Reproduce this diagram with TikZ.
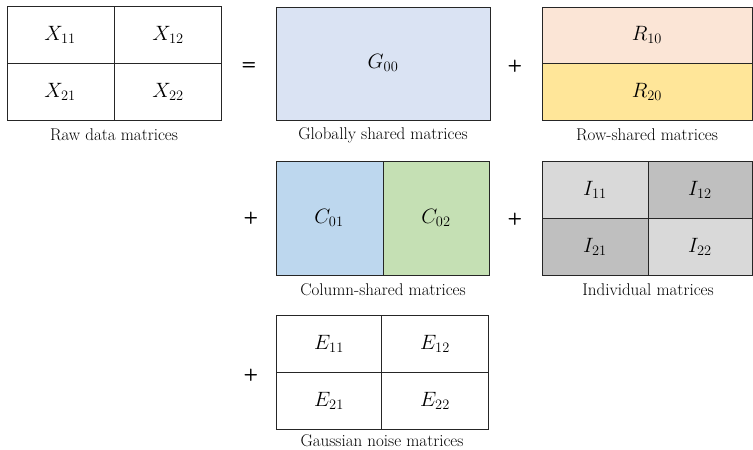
\documentclass[tikz,border=0pt]{standalone}
\usepackage{amsmath}
\usepackage{tikz}

\definecolor{gblue}{HTML}{DAE3F3}
\definecolor{rpink}{HTML}{FBE5D6}
\definecolor{ryellow}{HTML}{FFE699}
\definecolor{cblue}{HTML}{BDD7EE}
\definecolor{cgreen}{HTML}{C5E0B4}
\definecolor{ilight}{HTML}{D9D9D9}
\definecolor{idark}{HTML}{BFBFBF}

\tikzset{
  box/.style={draw=black!85, line width=0.8pt},
  ent/.style={font=\huge},
  lbl/.style={font=\fontsize{17}{20}\selectfont, inner sep=0pt},
  op/.style={font=\fontsize{17}{20}\selectfont\sffamily\bfseries}
}

\begin{document}
\begin{tikzpicture}[x=1pt,y=-1pt]
\useasboundingbox (0,0) rectangle (753,450);
% raw data X
\draw[box] (7,6) rectangle (221,120);
\draw[box] (114,6) -- (114,120);
\draw[box] (7,63) -- (221,63);
\node[ent] (x11) at (60,35) {$X_{11}$};
\node[ent] (x12) at (168,35) {$X_{12}$};
\node[ent] (x21) at (60,92) {$X_{21}$};
\node[ent] (x22) at (168,92) {$X_{22}$};
\node[lbl] (xlab) at (114,135) {Raw data matrices};
\node[op] (eq) at (249,66) {=};
% global G
\filldraw[box, fill=gblue] (276,7) rectangle (490,120);
\node[ent] (g00) at (383,63) {$G_{00}$};
\node[lbl] (glab) at (383,135) {Globally shared matrices};
\node[op] (p1) at (515,66) {+};
% row-shared R
\filldraw[box, fill=rpink] (542,7) rectangle (752,63);
\filldraw[box, fill=ryellow] (542,63) rectangle (752,120);
\node[ent] (r10) at (647,35) {$R_{10}$};
\node[ent] (r20) at (647,92) {$R_{20}$};
\node[lbl] (rlab) at (647,135) {Row-shared matrices};
% column-shared C
\node[op] (p2) at (251,218) {+};
\filldraw[box, fill=cblue] (276,161) rectangle (383,275);
\filldraw[box, fill=cgreen] (383,161) rectangle (489,275);
\node[ent] (c01) at (329,218) {$C_{01}$};
\node[ent] (c02) at (436,218) {$C_{02}$};
\node[lbl] (clab) at (383,290) {Column-shared matrices};
% individual I
\node[op] (p3) at (515,219) {+};
\filldraw[box, fill=ilight] (542,161) rectangle (648,218);
\filldraw[box, fill=idark] (648,161) rectangle (752,218);
\filldraw[box, fill=idark] (542,218) rectangle (648,275);
\filldraw[box, fill=ilight] (648,218) rectangle (752,275);
\node[ent] (i11) at (595,190) {$I_{11}$};
\node[ent] (i12) at (700,190) {$I_{12}$};
\node[ent] (i21) at (595,247) {$I_{21}$};
\node[ent] (i22) at (700,247) {$I_{22}$};
\node[lbl] (ilab) at (648,290) {Individual matrices};
% noise E
\node[op] (p4) at (251,375) {+};
\draw[box] (276,315) rectangle (488,429);
\draw[box] (381,315) -- (381,429);
\draw[box] (276,372) -- (488,372);
\node[ent] (e11) at (329,344) {$E_{11}$};
\node[ent] (e12) at (435,344) {$E_{12}$};
\node[ent] (e21) at (329,401) {$E_{21}$};
\node[ent] (e22) at (435,401) {$E_{22}$};
\node[lbl] (elab) at (382,441) {Gaussian noise matrices};
\end{tikzpicture}
\end{document}
